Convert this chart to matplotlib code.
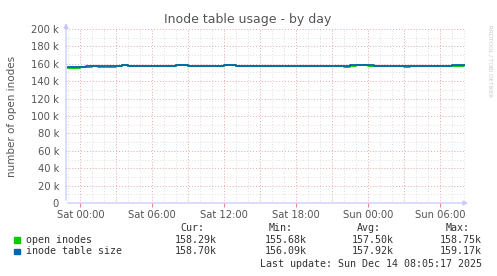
import matplotlib
matplotlib.use('Agg')
import matplotlib.pyplot as plt
import numpy as np

# hours relative to Sat 00:00, one sample every 30 min
hours = np.arange(-1.0, 32.5, 0.5)

# inode table size (k)
table_size = [156.1, 156.1, 156.2, 157.6, 157.9, 157.9, 157.9, 157.9, 157.9, 158.6,
              157.9, 157.9, 157.9, 157.9, 157.9, 157.9, 157.9, 157.9, 158.5, 158.6,
              158.0, 157.9, 157.9, 157.9, 157.9, 157.9, 158.6, 158.5, 157.8, 157.8,
              157.8, 157.8, 157.8, 157.8, 157.8, 157.9, 157.9, 157.9, 158.0, 158.0,
              158.0, 157.9, 157.9, 157.9, 157.9, 157.9, 157.8, 158.3, 158.7, 158.5,
              158.2, 158.0, 157.9, 157.9, 157.9, 157.9, 157.9, 157.9, 157.9, 157.9,
              157.9, 157.9, 158.0, 158.0, 158.1, 158.4, 158.7]

# open inodes (k)
open_inodes = [155.7, 155.7, 155.8, 156.6, 157.5, 156.8, 156.7, 156.8, 156.9, 158.2,
               157.5, 157.5, 157.5, 157.5, 157.5, 157.5, 157.5, 157.5, 158.1, 158.2,
               157.6, 157.5, 157.5, 157.5, 157.5, 157.5, 158.2, 158.1, 156.9, 157.4,
               157.0, 157.4, 156.9, 157.4, 157.4, 157.5, 157.5, 157.5, 157.6, 157.6,
               157.6, 157.0, 157.5, 157.5, 157.5, 157.5, 156.8, 157.9, 158.3, 158.1,
               157.8, 157.6, 157.5, 157.5, 157.5, 157.5, 156.8, 157.5, 156.9, 156.9,
               157.5, 157.5, 157.6, 157.6, 157.7, 158.0, 158.29]

tick_hours = [0, 6, 12, 18, 24, 30]
tick_labels = ['Sat 00:00', 'Sat 06:00', 'Sat 12:00', 'Sat 18:00', 'Sun 00:00', 'Sun 06:00']

series_names = ['open inodes', 'inode table size']
series_colors = ['#00cc00', '#0066b3']
stats_cur = ['158.29k', '158.70k']
stats_min = ['155.68k', '156.09k']
stats_avg = ['157.50k', '157.92k']
stats_max = ['158.75k', '159.17k']

W, H = 497, 276
fig = plt.figure(figsize=(W / 100, H / 100), dpi=100)
fig.patch.set_facecolor('white')
ax = fig.add_axes([66 / W, 1 - 203 / H, (465 - 66) / W, (203 - 29) / H])
ax.set_facecolor('white')

# grid: minor gray, major red
dots = (0, (1, 2.5))
for h in np.arange(-1, 33, 1):
    ax.axvline(h, color='#d4d4d4', lw=0.6, ls=dots, zorder=0)
for v in np.arange(10000, 200001, 10000):
    ax.axhline(v, color='#d4d4d4', lw=0.6, ls=dots, zorder=0)
for h in np.arange(0, 33, 3):
    ax.axvline(h, color='#f2a0a0', lw=0.6, ls=dots, zorder=1)
for v in np.arange(20000, 200001, 20000):
    ax.axhline(v, color='#f2a0a0', lw=0.6, ls=dots, zorder=1)

ax.plot(hours, np.array(open_inodes) * 1000, color=series_colors[0], lw=1.3,
        drawstyle='steps-post', zorder=3)
ax.plot(hours, np.array(table_size) * 1000, color=series_colors[1], lw=1.3,
        drawstyle='steps-post', zorder=4)

ax.set_xlim(-1.2, 32.1)
ax.set_ylim(0, 200000)
for s in ax.spines.values():
    s.set_visible(False)

ax.set_yticks(np.arange(0, 200001, 20000))
ax.set_yticklabels(['0'] + ['%d k' % (v // 1000) for v in range(20000, 200001, 20000)])
ax.set_xticks(tick_hours)
ax.set_xticklabels(tick_labels)
ax.tick_params(axis='y', length=0, labelsize=7.2, labelcolor='#555555', pad=5)
ax.tick_params(axis='x', length=3, color='#f08080', labelsize=7.2, labelcolor='#555555',
               pad=2, direction='out')
ax.set_ylabel('number of open inodes', fontsize=7.5, color='#555555', labelpad=10)

# axes with arrows
ax.annotate('', xy=(1.015, 0), xytext=(-0.003, 0), xycoords='axes fraction',
            arrowprops=dict(arrowstyle='-|>', color='#c8c8ff', lw=0.9, mutation_scale=7),
            annotation_clip=False)
ax.annotate('', xy=(0, 1.05), xytext=(0, 0), xycoords='axes fraction',
            arrowprops=dict(arrowstyle='-|>', color='#c8c8ff', lw=0.9, mutation_scale=7),
            annotation_clip=False)

fig.text(248 / W, 1 - 20 / H, 'Inode table usage - by day', ha='center', va='center',
         fontsize=9, color='#555555')
fig.text(490 / W, 1 - 25 / H, 'RRDTOOL / TOBI OETIKER', rotation=270, ha='center', va='top',
         fontsize=4.1, color='#c8c8c8')

# legend and stats
mono = 'DejaVu Sans Mono'
fs = 7.2
for x, lab in [(204, 'Cur:'), (293, 'Min:'), (381, 'Avg:'), (470, 'Max:')]:
    fig.text(x / W, 1 - 228 / H, lab, ha='right', va='center', family=mono, fontsize=fs,
             color='#333333')
for i in range(2):
    y = 240 + i * 11.5
    fig.patches.append(plt.Rectangle((14 / W, 1 - (y + 2.5) / H), 5.5 / W, 5.5 / H,
                                     transform=fig.transFigure, color=series_colors[i]))
    fig.text(26 / W, 1 - y / H, series_names[i], ha='left', va='center', family=mono,
             fontsize=fs, color='#333333')
    for x, val in [(217, stats_cur[i]), (307, stats_min[i]), (394, stats_avg[i]),
                   (482, stats_max[i])]:
        fig.text(x / W, 1 - y / H, val, ha='right', va='center', family=mono,
                 fontsize=fs, color='#333333')
fig.text(482 / W, 1 - 264 / H, 'Last update: Sun Dec 14 08:05:17 2025', ha='right',
         va='center', family=mono, fontsize=fs, color='#333333')

fig.savefig('out.png', dpi=100, facecolor='white')
